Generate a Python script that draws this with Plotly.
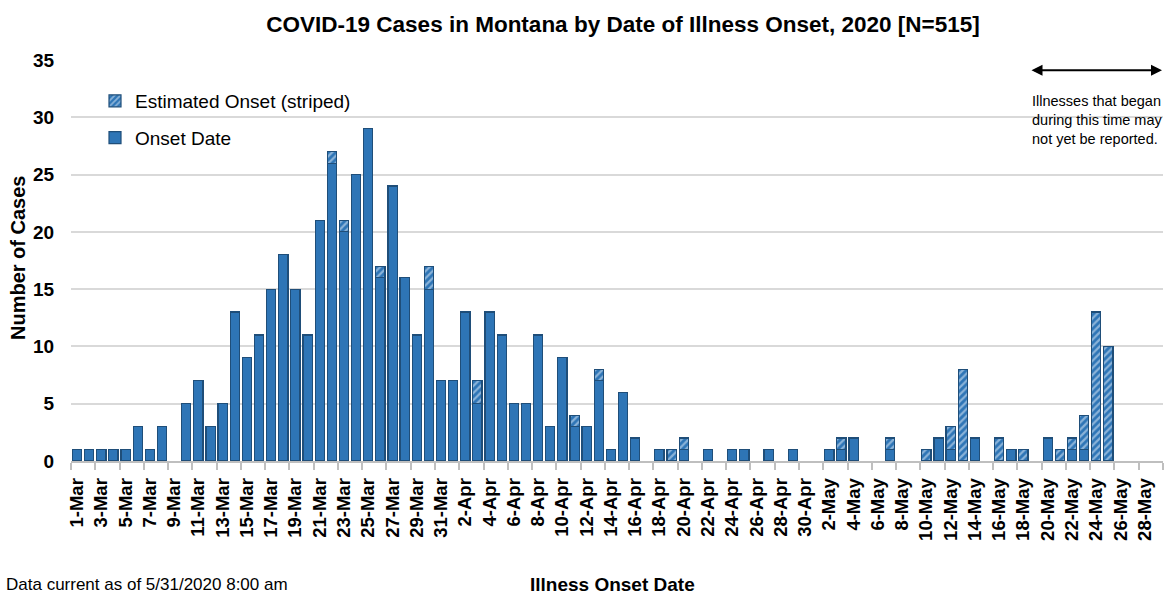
import plotly.graph_objects as go

# ---- data ----
dates = (
    [f"{d}-Mar" for d in range(1, 32)]
    + [f"{d}-Apr" for d in range(1, 31)]
    + [f"{d}-May" for d in range(1, 30)]
)

total_cases = [
    # March
    1, 1, 1, 1, 1, 3, 1, 3, 0, 5, 7, 3, 5, 13, 9, 11, 15, 18, 15, 11,
    21, 27, 21, 25, 29, 17, 24, 16, 11, 17, 7,
    # April
    7, 13, 7, 13, 11, 5, 5, 11, 3, 9, 4, 3, 8, 1, 6, 2, 0, 1, 1, 2,
    0, 1, 0, 1, 1, 0, 1, 0, 1, 0,
    # May
    0, 1, 2, 2, 0, 0, 2, 0, 0, 1, 2, 3, 8, 2, 0, 2, 1, 1, 0, 2,
    1, 2, 4, 13, 10, 0, 0, 0, 0,
]

estimated_cases = [
    # March
    0, 0, 0, 0, 0, 0, 0, 0, 0, 0, 0, 0, 0, 0, 0, 0, 0, 0, 0, 0,
    0, 1, 1, 0, 0, 1, 0, 0, 0, 2, 0,
    # April
    0, 0, 2, 0, 0, 0, 0, 0, 0, 0, 1, 0, 1, 0, 0, 0, 0, 0, 1, 1,
    0, 0, 0, 0, 0, 0, 0, 0, 0, 0,
    # May
    0, 0, 1, 0, 0, 0, 1, 0, 0, 1, 0, 2, 8, 0, 0, 2, 0, 1, 0, 0,
    1, 1, 3, 13, 10, 0, 0, 0, 0,
]

onset_cases = [t - e for t, e in zip(total_cases, estimated_cases)]

tick_labels = dates[::2]

# ---- figure ----
idx = list(range(len(dates)))
tick_idx = idx[::2]

def nz(vals):
    # zero-height bars are not drawn (avoid outline slivers)
    return [v if v else None for v in vals]

BLUE = "#2E75B6"
EDGE = "#1F4E79"
FONT = "Liberation Sans, Arial, sans-serif"

W, H = 1167, 595
L, R, T, B = 71, 4, 60, 134
PW, PH = W - L - R, H - T - B

def px_x(p):
    return (p - L) / PW

def px_y(p):
    return (H - B - p) / PH

fig = go.Figure()
fig.add_trace(go.Bar(
    x=idx, y=nz(onset_cases), name="Onset Date",
    marker=dict(color=BLUE, line=dict(color=EDGE, width=1.2)),
    legendgroup="onset", legendrank=2, customdata=dates,
    hovertemplate="%{customdata}: %{y}<extra>Onset Date</extra>",
))
fig.add_trace(go.Bar(
    x=idx, y=nz(estimated_cases), name="Estimated Onset (striped)",
    marker=dict(color=BLUE, line=dict(color=EDGE, width=1.2),
                pattern=dict(shape="/", bgcolor=BLUE, fgcolor="#E6F0FA",
                             size=5, solidity=0.45)),
    legendgroup="est", legendrank=1, customdata=dates,
    hovertemplate="%{customdata}: %{y}<extra>Estimated Onset</extra>",
))

fig.update_layout(
    width=W, height=H,
    margin=dict(l=L, r=R, t=T, b=B, autoexpand=False),
    barmode="stack", bargap=0.24,
    plot_bgcolor="white", paper_bgcolor="white",
    font=dict(family=FONT, color="black"),
    title=dict(
        text="<b>COVID-19 Cases in Montana by Date of Illness Onset, 2020 [N=515]</b>",
        x=623 / W, xref="container", xanchor="center",
        y=1 - 24 / H, yref="container", yanchor="middle",
        font=dict(size=22.5, family=FONT, color="black"),
    ),
    legend=dict(
        x=px_x(95), y=px_y(82), xanchor="left", yanchor="top",
        traceorder="grouped", tracegroupgap=9,
        font=dict(size=19, family=FONT, color="black"),
        bgcolor="rgba(255,255,255,0)", itemwidth=30,
    ),
    showlegend=True,
)

fig.update_xaxes(
    range=[-0.5, 89.5], automargin=False,
    tickmode="array", tickvals=tick_idx, ticktext=tick_labels,
    tickangle=-90,
    tickfont=dict(size=18.5, family=FONT, color="black", weight="bold"),
    ticks="outside", ticklen=8, tickcolor="rgba(0,0,0,0)",
    minor=dict(tick0=-0.5, dtick=2, ticks="outside", ticklen=7,
               tickcolor="#BFBFBF", tickwidth=1.5, showgrid=False),
    showline=True, linecolor="#BFBFBF", linewidth=1.5,
    showgrid=False, zeroline=False,
)

fig.update_yaxes(
    range=[0, 35], tickmode="linear", tick0=0, dtick=5, automargin=False,
    tickfont=dict(size=19, family=FONT, color="black", weight="bold"),
    ticks="outside", ticklen=12, tickcolor="rgba(0,0,0,0)",
    showgrid=True, gridcolor="#D9D9D9", gridwidth=1.8,
    zeroline=False, showline=False,
)

# axis titles as positioned annotations
fig.add_annotation(
    x=px_x(18), y=px_y(258), xref="paper", yref="paper",
    text="<b>Number of Cases</b>", textangle=-90, showarrow=False,
    xanchor="center", yanchor="middle",
    font=dict(size=20, family=FONT, color="black"),
)
fig.add_annotation(
    x=px_x(612), y=px_y(584), xref="paper", yref="paper",
    text="<b>Illness Onset Date</b>", showarrow=False,
    xanchor="center", yanchor="middle",
    font=dict(size=19, family=FONT, color="black"),
)

# Annotation: reporting-lag arrow and note
fig.add_annotation(
    x=89.42, y=34.1, ax=78.54, ay=34.1, xref="x", yref="y",
    axref="x", ayref="y", text="", showarrow=True,
    arrowhead=2, startarrowhead=2, arrowside="end+start",
    arrowsize=1.1, startarrowsize=1.1, arrowwidth=2,
    arrowcolor="black",
)
fig.add_annotation(
    x=px_x(1097), y=px_y(120), xref="paper", yref="paper",
    text="Illnesses that began<br>during this time may<br>not yet be reported.",
    showarrow=False, align="left", xanchor="center", yanchor="middle",
    font=dict(size=14.5, family=FONT, color="black"),
)

fig.add_annotation(
    x=px_x(4), y=px_y(584), xref="paper", yref="paper",
    text="Data current as of 5/31/2020 8:00 am", showarrow=False,
    xanchor="left", yanchor="middle",
    font=dict(size=17, family=FONT, color="black"),
)

# remove the browser's default 8px page margin so the figure sits at (0, 0)
fig.write_html(
    "out.html",
    config={"displayModeBar": False},
    post_script="document.body.style.margin='0';",
)
